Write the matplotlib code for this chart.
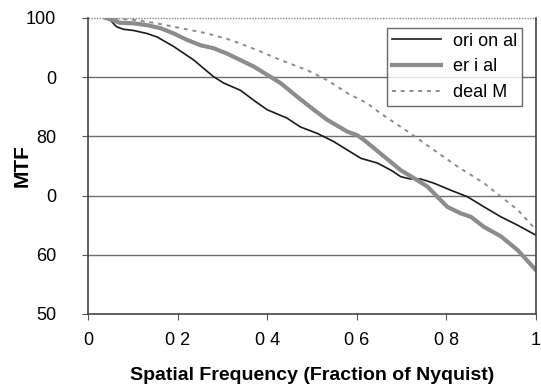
import numpy as np
import matplotlib.pyplot as plt

plt.rcParams['font.family'] = ['Liberation Sans', 'DejaVu Sans']

# values (fraction of Nyquist, MTF %)
horiz_x = [0.04, 0.049, 0.064, 0.079, 0.101, 0.131, 0.154, 0.191, 0.236, 0.280, 0.303,
           0.340, 0.370, 0.400, 0.444, 0.474, 0.512, 0.549, 0.579, 0.609, 0.646,
           0.676, 0.698, 0.720, 0.743, 0.772, 0.810, 0.847, 0.884, 0.922, 0.959, 1.0]
horiz_y = [100, 99.7, 98.5, 98.1, 97.9, 97.4, 96.8, 95.2, 92.9, 90.1, 89.0,
           87.8, 86.1, 84.5, 83.1, 81.6, 80.5, 79.1, 77.7, 76.3, 75.5,
           74.3, 73.2, 72.8, 72.8, 72.1, 70.9, 69.8, 68.1, 66.4, 65.0, 63.3]

vert_x = [0.04, 0.072, 0.101, 0.131, 0.161, 0.191, 0.221, 0.251, 0.280, 0.310, 0.340,
          0.370, 0.400, 0.430, 0.467, 0.504, 0.534, 0.579, 0.601, 0.616, 0.661,
          0.698, 0.735, 0.758, 0.780, 0.802, 0.832, 0.855, 0.884, 0.922, 0.959, 1.0]
vert_y = [100, 99.2, 99.1, 98.8, 98.3, 97.4, 96.3, 95.4, 94.9, 94.0, 92.9,
          91.8, 90.4, 89.0, 86.7, 84.5, 82.8, 80.8, 80.2, 79.4, 76.6,
          74.3, 72.6, 71.5, 69.8, 68.1, 67.0, 66.4, 64.7, 63.1, 60.8, 57.4]

ideal_x = [0.04, 0.10, 0.154, 0.206, 0.266, 0.318, 0.377, 0.430, 0.489, 0.534, 0.579,
           0.623, 0.653, 0.720, 0.772, 0.825, 0.884, 0.922, 0.959, 1.0]
ideal_y = [100, 99.7, 99.1, 98.3, 97.4, 96.3, 94.6, 92.9, 91.2, 89.5, 87.3,
           85.6, 83.9, 80.5, 77.7, 74.9, 72.1, 69.8, 67.6, 64.2]

xticks = [0, 0.2, 0.4, 0.6, 0.8, 1]
xtick_labels = ['0', '0 2', '0 4', '0 6', '0 8', '1']
yticks = [50, 60, 70, 80, 90, 100]
ytick_labels = ['50', '60', '0', '80', '0', '100']

fig = plt.figure(figsize=(5.41, 3.85), dpi=100)
ax = fig.add_axes([88/541, 1 - 314/385, (536 - 88)/541, (314 - 18)/385])

ax.plot(horiz_x, horiz_y, color='#1a1a1a', lw=1.2, label='ori on al')
ax.plot(vert_x, vert_y, color='#8c8c8c', lw=3.0, label='er i al')
ax.plot(ideal_x, ideal_y, color='#8c8c8c', lw=1.4, ls=(0, (2, 2.5)), label='deal M')

ax.set_xlim(0, 1)
ax.set_ylim(50, 100)
ax.set_xticks(xticks)
ax.set_xticklabels(xtick_labels)
ax.set_yticks(yticks)
ax.set_yticklabels(ytick_labels)
ax.tick_params(labelsize=13, length=4, color='#555555')
ax.tick_params(axis='y', pad=19)
ax.tick_params(axis='x', pad=9)

# horizontal gridlines, the top one dotted like the plot-area border
for y in [60, 70, 80, 90]:
    ax.axhline(y, color='#6e6e6e', lw=1.0, zorder=0)
ax.axhline(100, color='#888888', lw=1.0, ls=(0, (1, 1)), zorder=0, clip_on=False)

ax.spines['top'].set_visible(False)
for s in ['left', 'bottom', 'right']:
    ax.spines[s].set_color('#444444')
    ax.spines[s].set_linewidth(1.2)

ax.set_xlabel('Spatial Frequency (Fraction of Nyquist)', fontsize=14,
              fontweight='bold', va='top')
ax.xaxis.set_label_coords(0.5, -0.18)
ax.set_ylabel('MTF', fontsize=15, fontweight='bold')
ax.yaxis.set_label_coords(-0.125, 0.5)

leg = ax.legend(loc='upper right', bbox_to_anchor=(0.969, 0.966), borderaxespad=0,
                fontsize=13, frameon=True, fancybox=False, edgecolor='#444444',
                handlelength=2.7, handletextpad=0.7, borderpad=0.25,
                labelspacing=0.49)
leg.get_frame().set_linewidth(1.0)

fig.savefig('out.png', dpi=100)
